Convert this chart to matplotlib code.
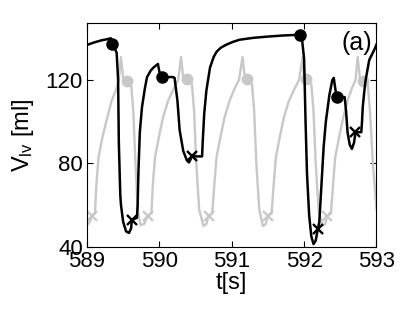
import matplotlib
matplotlib.use("Agg")
import matplotlib.pyplot as plt

plt.rcParams['font.family'] = ['Liberation Sans', 'DejaVu Sans']
plt.rcParams['mathtext.default'] = 'regular'

# black trace
black_t = [589.00, 589.10, 589.20, 589.30, 589.33, 589.35, 589.38, 589.41, 589.43, 589.44,
           589.46, 589.47, 589.50, 589.54, 589.58, 589.61, 589.62, 589.66, 589.69, 589.70,
           589.71, 589.73, 589.76, 589.80, 589.83, 589.88, 589.92, 589.98, 590.00, 590.03,
           590.10, 590.19, 590.21, 590.25, 590.28, 590.33, 590.38, 590.41, 590.45, 590.52,
           590.59, 590.60, 590.62, 590.65, 590.70, 590.75, 590.79, 590.85, 590.93, 591.02,
           591.11, 591.30, 591.50, 591.70, 591.95, 591.97, 592.00, 592.02, 592.04, 592.07,
           592.10, 592.13, 592.16, 592.19, 592.21, 592.24, 592.27, 592.30, 592.35, 592.39,
           592.41, 592.43, 592.45, 592.50, 592.56, 592.58, 592.60, 592.63, 592.66, 592.69,
           592.71, 592.75, 592.79, 592.80, 592.81, 592.83, 592.85, 592.90, 592.97, 593.00]
black_v = [136.8, 138.0, 139.0, 139.7, 140.0, 137.3, 135.5, 133.0, 120.0, 90.0,
           65.0, 60.0, 52.0, 47.5, 46.7, 49.0, 53.0, 53.5, 54.0, 60.0,
           75.0, 95.0, 107.0, 116.0, 121.4, 124.5, 126.0, 127.7, 124.0, 121.4,
           121.4, 121.4, 121.0, 110.0, 96.0, 86.0, 81.5, 80.5, 83.4, 83.4,
           83.4, 91.0, 104.0, 115.0, 126.0, 131.0, 133.5, 135.5, 137.0, 138.3,
           139.3, 140.2, 140.8, 141.3, 141.7, 140.0, 130.0, 100.0, 75.0, 55.0,
           45.0, 41.4, 43.0, 48.7, 52.0, 70.0, 88.0, 100.0, 113.0, 120.0,
           121.0, 116.0, 111.8, 111.8, 111.8, 105.0, 95.0, 89.0, 87.0, 90.0,
           95.0, 95.0, 95.0, 100.0, 107.0, 114.0, 120.0, 129.6, 134.5, 137.0]
black_dot_t = [589.35, 590.03, 591.95, 592.45]
black_dot_v = [137.3, 121.4, 141.7, 111.8]
black_x_t = [589.62, 590.45, 592.19, 592.71]
black_x_v = [53.0, 83.4, 48.7, 95.0]

# gray trace
gray_t = [589.00, 589.04, 589.07, 589.11, 589.13, 589.16, 589.21, 589.28, 589.34, 589.41,
          589.44, 589.47, 589.50, 589.55, 589.61, 589.64, 589.67, 589.70, 589.74, 589.79,
          589.84, 589.89, 589.91, 589.94, 589.99, 590.05, 590.12, 590.20, 590.26, 590.30,
          590.33, 590.38, 590.45, 590.48, 590.51, 590.55, 590.61, 590.65, 590.68, 590.73,
          590.76, 590.79, 590.84, 590.90, 590.97, 591.04, 591.10, 591.15, 591.18, 591.21,
          591.28, 591.31, 591.34, 591.38, 591.43, 591.47, 591.50, 591.55, 591.58, 591.61,
          591.66, 591.72, 591.79, 591.87, 591.93, 591.98, 592.00, 592.03, 592.10, 592.13,
          592.16, 592.20, 592.25, 592.29, 592.32, 592.37, 592.40, 592.43, 592.48, 592.54,
          592.60, 592.66, 592.71, 592.74, 592.77, 592.81, 592.88, 592.91, 592.95, 593.00]
gray_v = [50.5, 52.0, 55.0, 56.0, 70.0, 83.0, 92.0, 102.0, 110.0, 116.0,
          120.0, 131.0, 121.0, 119.5, 118.0, 105.0, 80.0, 58.0, 50.5, 51.0,
          55.0, 56.0, 70.0, 83.0, 92.0, 102.0, 110.0, 116.0, 120.0, 131.0,
          121.0, 120.5, 118.0, 105.0, 80.0, 58.0, 50.0, 51.0, 55.0, 56.0,
          70.0, 83.0, 92.0, 102.0, 110.0, 116.0, 120.0, 131.0, 121.0, 120.5,
          118.0, 105.0, 80.0, 58.0, 50.0, 51.0, 55.0, 56.0, 70.0, 83.0,
          92.0, 102.0, 110.0, 116.0, 120.0, 131.0, 121.0, 120.5, 118.0, 105.0,
          80.0, 58.0, 50.0, 51.0, 55.0, 56.0, 70.0, 83.0, 92.0, 102.0,
          110.0, 116.0, 120.0, 131.0, 121.0, 119.5, 118.0, 105.0, 80.0, 58.0]
gray_dot_t = [589.55, 590.38, 591.21, 592.03, 592.81]
gray_dot_v = [119.5, 120.5, 120.5, 120.5, 119.5]
gray_x_t = [589.07, 589.84, 590.68, 591.50, 592.32]
gray_x_v = [55.0, 55.0, 55.0, 55.0, 55.0]

gray = '#c8c8c8'

fig = plt.figure(figsize=(4.15, 3.13), dpi=100)
ax = fig.add_axes([0.2096, 0.2109, 0.6976, 0.7156])

ax.plot(gray_t, gray_v, color=gray, lw=1.7)
ax.plot(gray_dot_t, gray_dot_v, 'o', color=gray, ms=7.5)
ax.plot(gray_x_t, gray_x_v, 'x', color=gray, ms=6.5, mew=1.6)
ax.plot(black_t, black_v, color='black', lw=1.8)
ax.plot(black_dot_t, black_dot_v, 'o', color='black', ms=8)
ax.plot(black_x_t, black_x_v, 'x', color='black', ms=6.5, mew=1.7)

ax.set_xlim(589, 593)
ax.set_ylim(40, 147.3)
ax.set_xticks([589, 590, 591, 592, 593])
ax.set_yticks([40, 80, 120])
ax.tick_params(direction='in', top=True, right=True, length=4, labelsize=16, pad=3)
ax.set_xlabel('t[s]', fontsize=17, labelpad=0)
ax.set_ylabel('V$_{lv}$ [ml]', fontsize=17, labelpad=7)
ax.text(0.985, 0.965, '(a)', transform=ax.transAxes, ha='right', va='top', fontsize=18)

fig.savefig('out.png', dpi=100)
